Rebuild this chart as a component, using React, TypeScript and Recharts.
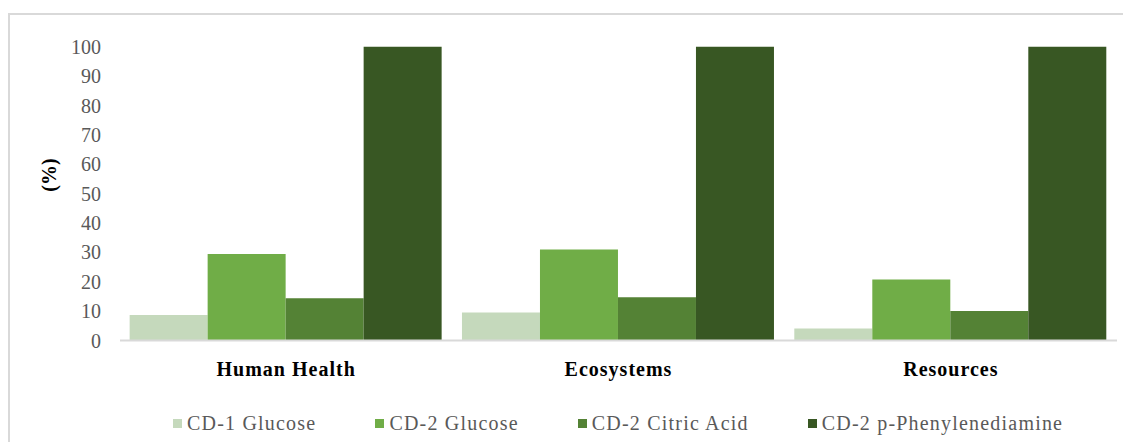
import React from 'react';
import { BarChart, Bar, XAxis, YAxis } from 'recharts';

// Impact categories along the x axis
const categories = ['Human Health', 'Ecosystems', 'Resources'];

// Relative impact (%) of each carbon-dot synthesis route
const cd1Glucose = [8.7, 9.5, 4.1];
const cd2Glucose = [29.4, 31.0, 20.8];
const cd2CitricAcid = [14.4, 14.7, 10.0];
const cd2Phenylenediamine = [100, 100, 100];

const yTicks = [0, 10, 20, 30, 40, 50, 60, 70, 80, 90, 100];

const series = [
  { key: 'cd1Glucose', name: 'CD-1 Glucose', color: '#C5D9BC', values: cd1Glucose },
  { key: 'cd2Glucose', name: 'CD-2 Glucose', color: '#70AD47', values: cd2Glucose },
  { key: 'cd2CitricAcid', name: 'CD-2 Citric Acid', color: '#548235', values: cd2CitricAcid },
  { key: 'cd2Phenylenediamine', name: 'CD-2 p-Phenylenediamine', color: '#385723', values: cd2Phenylenediamine },
];

const data = categories.map((category, i) => {
  const row: Record<string, string | number> = { category };
  series.forEach((s) => {
    row[s.key] = s.values[i];
  });
  return row;
});

const FONT = 'Liberation Serif, Times New Roman, serif';

const ChartLegend = () => (
  <div
    style={{
      position: 'absolute',
      left: 165,
      top: 403,
      display: 'flex',
      alignItems: 'center',
      gap: 59,
      fontFamily: FONT,
      fontSize: 20,
      letterSpacing: 1.2,
      color: '#595959',
      whiteSpace: 'nowrap',
      lineHeight: '24px',
    }}
  >
    {series.map((s) => (
      <div key={s.key} style={{ display: 'flex', alignItems: 'center' }}>
        <span
          style={{
            display: 'inline-block',
            width: 9,
            height: 9,
            background: s.color,
            marginRight: 5,
          }}
        />
        <span>{s.name}</span>
      </div>
    ))}
  </div>
);

const YLabel = (props: any) => {
  const { viewBox } = props;
  const cx = viewBox.x + 41;
  const cy = 167;
  return (
    <text
      x={cx}
      y={cy}
      transform={`rotate(-90, ${cx}, ${cy})`}
      textAnchor="middle"
      dominantBaseline="central"
      fontFamily={FONT}
      fontSize={20}
      fontWeight="bold"
      fill="#000"
    >
      (%)
    </text>
  );
};

export default function App() {
  return (
    <div style={{ position: 'relative', width: 1123, height: 434 }}>
      <div
        style={{
          position: 'absolute',
          left: 0,
          top: 5,
          width: 1140,
          height: 450,
          border: '2px solid #D9D9D9',
          boxSizing: 'border-box',
        }}
      />
      <div style={{ position: 'absolute', left: 0, top: 0 }}>
        <BarChart
          width={1123}
          height={434}
          data={data}
          margin={{ top: 38.7, right: 14, bottom: 51.5, left: 0 }}
          barCategoryGap="2.9%"
          barGap={0}
        >
          <YAxis
            width={112}
            domain={[0, 100]}
            ticks={yTicks}
            interval={0}
            axisLine={false}
            tickLine={false}
            tickSize={0}
            tickMargin={19}
            tick={{ fontFamily: FONT, fontSize: 20, fill: '#595959' }}
            label={<YLabel />}
          />
          <XAxis
            dataKey="category"
            height={50}
            axisLine={{ stroke: '#D9D9D9', strokeWidth: 2 }}
            tickLine={false}
            tickSize={0}
            tickMargin={21}
            tick={{ fontFamily: FONT, fontSize: 20, fontWeight: 'bold', fill: '#000', letterSpacing: 1 }}
          />
          {series.map((s) => (
            <Bar
              key={s.key}
              dataKey={s.key}
              name={s.name}
              fill={s.color}
              isAnimationActive={false}
            />
          ))}
        </BarChart>
      </div>
      <ChartLegend />
    </div>
  );
}
